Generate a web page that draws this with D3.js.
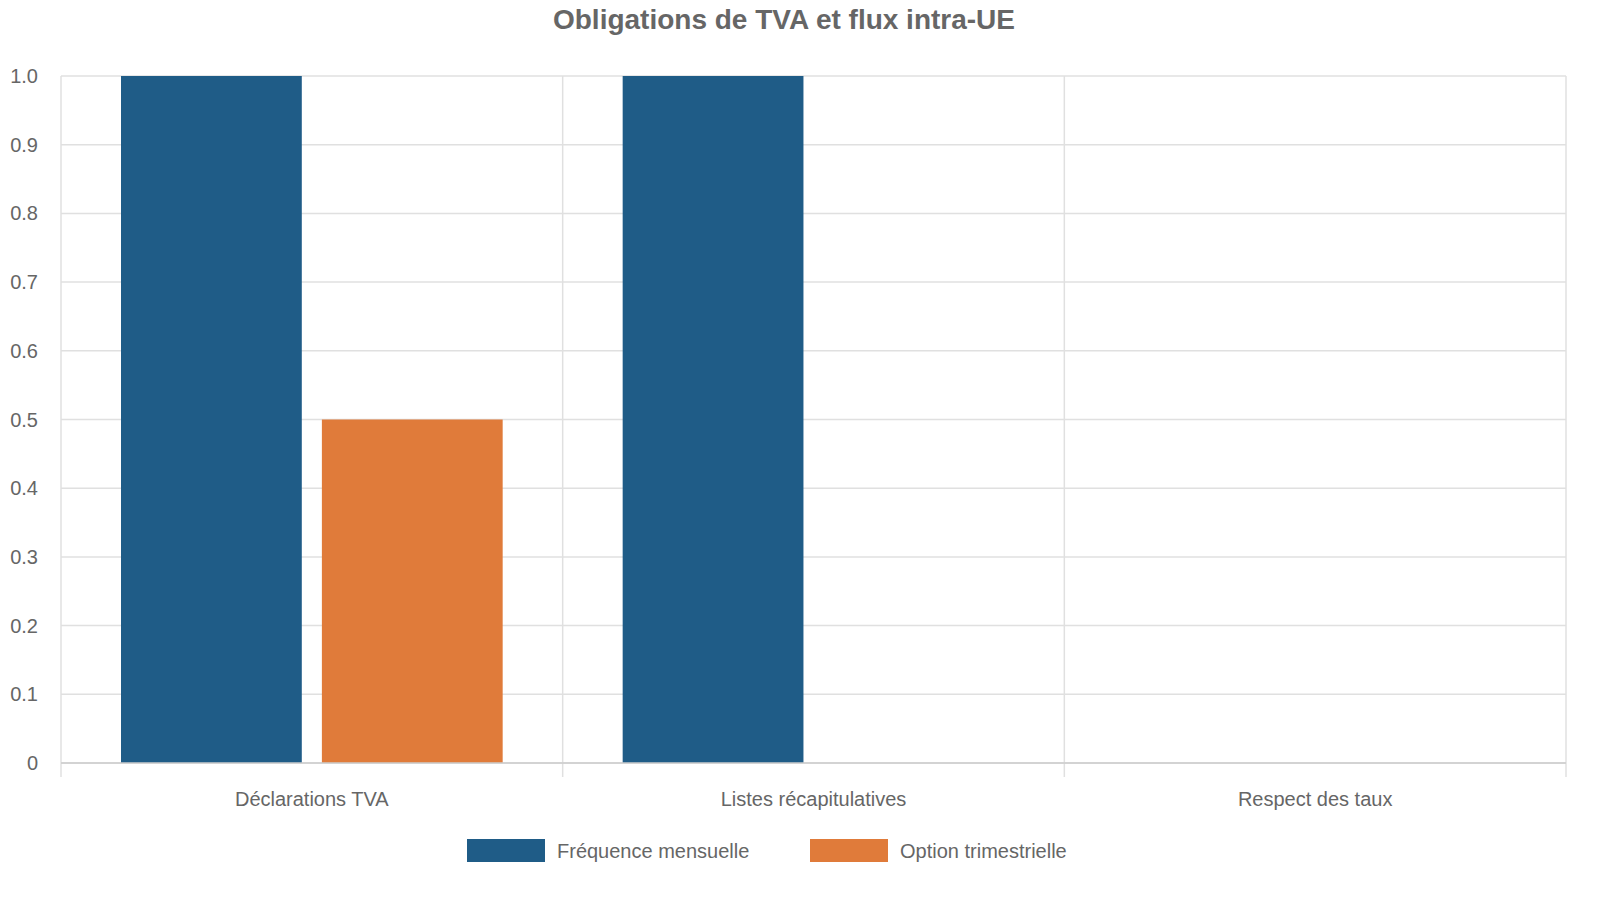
<!DOCTYPE html>
<html><head><meta charset="utf-8">
<script src="https://cdn.jsdelivr.net/npm/d3@7"></script>
<style>body{margin:0;background:#fff;font-family:"Liberation Sans",Arial,sans-serif}</style>
</head><body><div id="chart"></div>
<script>
const categories = ["Déclarations TVA", "Listes récapitulatives", "Respect des taux"];
const seriesNames = ["Fréquence mensuelle", "Option trimestrielle"];
const mensuelle = [1, 1, 0];
const trimestrielle = [0.5, 0, 0];
const colors = ["#1f5c87", "#e07b3a"];
const yTicks = [0, 0.1, 0.2, 0.3, 0.4, 0.5, 0.6, 0.7, 0.8, 0.9, 1.0];

const w = 1600, h = 900;
const plotLeft = 61, plotRight = 1566, plotTop = 76, plotBottom = 763;

const svg = d3.select("#chart").append("svg").attr("width", w).attr("height", h);

svg.append("text").attr("x", 784).attr("y", 29).attr("text-anchor", "middle")
  .attr("font-size", 28).attr("font-weight", "bold").attr("fill", "#666")
  .text("Obligations de TVA et flux intra-UE");

const x = d3.scaleBand().domain(categories).range([plotLeft, plotRight]);
const x1 = d3.scaleBand().domain(seriesNames).range([60, x.bandwidth() - 60]).paddingInner(0.1);
const y = d3.scaleLinear().domain([0, 1]).range([plotBottom, plotTop]);

// horizontal grid
svg.selectAll(".hg").data(yTicks).enter().append("line")
  .attr("x1", plotLeft).attr("x2", plotRight).attr("y1", d => y(d)).attr("y2", d => y(d))
  .attr("stroke", "#e0e0e0").attr("stroke-width", 1.5);
// vertical grid + ticks
const bounds = categories.map(c => x(c)).concat([plotRight]);
svg.selectAll(".vg").data(bounds).enter().append("line")
  .attr("x1", d => d).attr("x2", d => d).attr("y1", plotTop).attr("y2", plotBottom + 14)
  .attr("stroke", "#e0e0e0").attr("stroke-width", 1.5);

svg.selectAll(".yl").data(yTicks).enter().append("text")
  .attr("x", 38).attr("y", d => y(d) + 7).attr("text-anchor", "end")
  .attr("font-size", 20).attr("fill", "#666")
  .text(d => d === 0 ? "0" : d.toFixed(1));

const data = [mensuelle, trimestrielle];
data.forEach((vals, si) => {
  svg.selectAll(".b" + si).data(categories).enter().append("rect")
    .attr("x", c => x(c) + x1(seriesNames[si]))
    .attr("width", x1.bandwidth())
    .attr("y", (c, i) => y(vals[i]))
    .attr("height", (c, i) => plotBottom - y(vals[i]))
    .attr("fill", colors[si]);
});

svg.append("line").attr("x1", plotLeft).attr("x2", plotRight).attr("y1", plotBottom).attr("y2", plotBottom)
  .attr("stroke", "#ccc").attr("stroke-width", 1.5);

svg.selectAll(".xl").data(categories).enter().append("text")
  .attr("x", c => x(c) + x.bandwidth() / 2).attr("y", 806).attr("text-anchor", "middle")
  .attr("font-size", 20).attr("fill", "#666").text(c => c);

const legX = [467, 810];
seriesNames.forEach((s, i) => {
  svg.append("rect").attr("x", legX[i]).attr("y", 839).attr("width", 78).attr("height", 23).attr("fill", colors[i]);
  svg.append("text").attr("x", legX[i] + 90).attr("y", 858).attr("font-size", 20).attr("fill", "#666").text(s);
});
</script></body></html>
